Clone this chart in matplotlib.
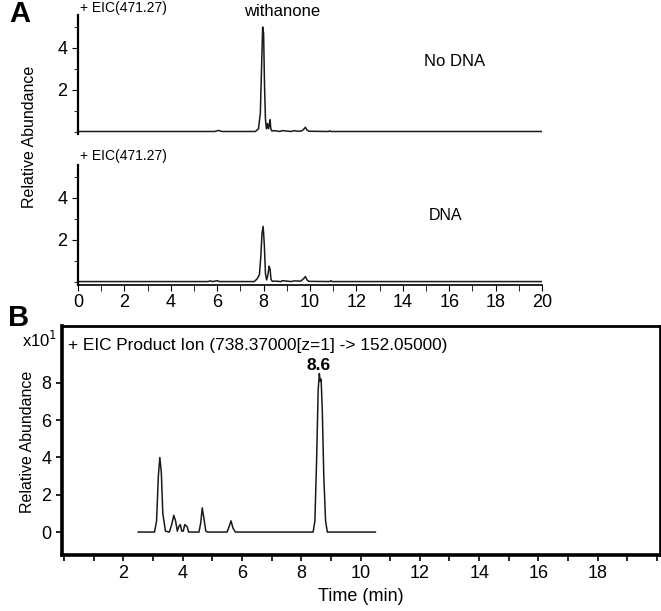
import matplotlib
matplotlib.use('Agg')
import matplotlib.pyplot as plt
from matplotlib.ticker import MultipleLocator

plt.rcParams['font.family'] = ['Liberation Sans', 'DejaVu Sans']

# Panel A, top trace (No DNA): retention time (min) vs relative abundance
t_nodna = [0.0, 5.9, 6.05, 6.2, 7.65, 7.78, 7.86, 7.92, 7.96, 8.0, 8.04, 8.08, 8.12,
           8.17, 8.21, 8.24, 8.28, 8.31, 8.36, 8.45, 8.7, 8.8, 9.2, 9.3, 9.5, 9.65,
           9.75, 9.8, 9.86, 9.95, 10.8, 10.85, 10.9, 20.0]
y_nodna = [0.02, 0.02, 0.07, 0.02, 0.02, 0.15, 0.9, 3.4, 5.0, 4.7, 2.2, 0.6, 0.15,
           0.4, 0.15, 0.3, 0.58, 0.15, 0.04, 0.06, 0.02, 0.06, 0.02, 0.06, 0.03, 0.05,
           0.15, 0.22, 0.1, 0.03, 0.02, 0.05, 0.02, 0.02]

# Panel A, bottom trace (DNA)
t_dna = [0.0, 5.6, 5.7, 5.8, 6.0, 6.1, 7.6, 7.72, 7.82, 7.88, 7.93, 7.98, 8.03, 8.08,
         8.13, 8.18, 8.24, 8.28, 8.32, 8.38, 8.5, 8.75, 8.8, 9.2, 9.3, 9.6, 9.72, 9.8,
         9.87, 9.95, 10.85, 10.9, 10.95, 20.0]
y_dna = [0.02, 0.02, 0.05, 0.02, 0.06, 0.02, 0.02, 0.15, 0.35, 1.2, 2.3, 2.65, 1.8,
         0.4, 0.1, 0.3, 0.75, 0.6, 0.12, 0.03, 0.04, 0.02, 0.06, 0.02, 0.05, 0.04,
         0.15, 0.26, 0.1, 0.03, 0.02, 0.06, 0.02, 0.02]

# Panel B trace: EIC product ion (x10^1)
t_b = [2.5, 3.05, 3.12, 3.18, 3.23, 3.28, 3.33, 3.42, 3.55, 3.63, 3.7, 3.76, 3.82,
       3.87, 3.92, 3.97, 4.02, 4.07, 4.1, 4.15, 4.2, 4.55, 4.61, 4.66, 4.72, 4.78,
       4.85, 5.5, 5.58, 5.63, 5.7, 5.78, 8.4, 8.46, 8.52, 8.57, 8.61, 8.64, 8.67,
       8.71, 8.76, 8.82, 8.88, 10.5]
y_b = [0.0, 0.0, 0.6, 3.0, 4.0, 3.2, 1.0, 0.05, 0.0, 0.4, 0.9, 0.6, 0.05, 0.3, 0.4,
       0.05, 0.05, 0.4, 0.35, 0.3, 0.0, 0.0, 0.5, 1.3, 0.7, 0.05, 0.0, 0.0, 0.35,
       0.6, 0.2, 0.0, 0.0, 0.6, 4.0, 7.6, 8.5, 8.1, 8.2, 6.5, 3.0, 0.6, 0.0, 0.0]

W, H = 661, 611
fig = plt.figure(figsize=(W / 100, H / 100), dpi=100)


def box(x0, y0, x1, y1):
    # pixel box (top-left origin) -> figure fraction rect
    return [x0 / W, 1 - y1 / H, (x1 - x0) / W, (y1 - y0) / H]


trace_kw = dict(color='#1a1a1a', linewidth=1.1)

# ---- Panel A ----
axA1 = fig.add_axes(box(78, 15, 542, 134))
axA2 = fig.add_axes(box(78, 165, 542, 284.5))

axA1.plot(t_nodna, y_nodna, **trace_kw)
axA2.plot(t_dna, y_dna, **trace_kw)
axA1.set_ylim(-0.1, 5.57)
axA2.set_ylim(-0.12, 5.57)

for ax in (axA1, axA2):
    ax.set_xlim(0, 20)
    ax.spines['top'].set_visible(False)
    ax.spines['right'].set_visible(False)
    ax.spines['left'].set_linewidth(1.6)
    ax.yaxis.set_minor_locator(MultipleLocator(1))
    ax.set_yticks([2, 4])
    ax.tick_params(axis='y', which='major', length=4, labelsize=13)
    ax.tick_params(axis='y', which='minor', length=3)

axA1.spines['bottom'].set_visible(False)
axA1.set_xticks([])

axA2.spines['bottom'].set_linewidth(1.2)
axA2.set_xticks(range(0, 21, 2))
axA2.xaxis.set_minor_locator(MultipleLocator(1))
axA2.tick_params(axis='x', which='both', length=4, labelsize=13, pad=3)

fig.text(80 / W, 1 - 8 / H, '+ EIC(471.27)', fontsize=10, va='center')
fig.text(80 / W, 1 - 156 / H, '+ EIC(471.27)', fontsize=10, va='center')
fig.text(282 / W, 1 - 12 / H, 'withanone', fontsize=12, ha='center', va='center')
fig.text(455 / W, 1 - 61 / H, 'No DNA', fontsize=12, ha='center', va='center')
fig.text(446 / W, 1 - 216 / H, 'DNA', fontsize=11.5, ha='center', va='center')
fig.text(30 / W, 1 - 137 / H, 'Relative Abundance', fontsize=11.5, rotation=90,
         ha='center', va='center')
fig.text(20 / W, 1 - 14 / H, 'A', fontsize=21, fontweight='bold', ha='center', va='center')

# ---- Panel B ----
axB = fig.add_axes(box(62, 326, 660, 555))
axB.plot(t_b, y_b, **trace_kw)
axB.set_xlim(-0.07, 20.1)
axB.set_ylim(-1.23, 11.05)
for s in axB.spines.values():
    s.set_linewidth(2.0)
axB.spines['left'].set_linewidth(2.6)
axB.spines['bottom'].set_linewidth(2.6)
axB.set_xticks(range(2, 19, 2))
axB.xaxis.set_minor_locator(MultipleLocator(1))
axB.set_yticks(range(0, 9, 2))
axB.tick_params(axis='both', which='both', length=4, width=1.2, labelsize=13)
axB.set_xlabel('Time (min)', fontsize=13, labelpad=4)
axB.text(0.01, 0.915, '+ EIC Product Ion (738.37000[z=1] -> 152.05000)', fontsize=12.4,
         transform=axB.transAxes, va='center')
axB.text(8.6, 8.55, '8.6', fontsize=12.5, fontweight='bold', ha='center', va='bottom')

fig.text(28 / W, 1 - 442 / H, 'Relative Abundance', fontsize=11.5, rotation=90,
         ha='center', va='center')
fig.text(22 / W, 1 - 340 / H, 'x10$^{1}$', fontsize=12, va='center')
fig.text(19 / W, 1 - 318 / H, 'B', fontsize=21, fontweight='bold', ha='center', va='center')

fig.savefig('out.png', dpi=100)
